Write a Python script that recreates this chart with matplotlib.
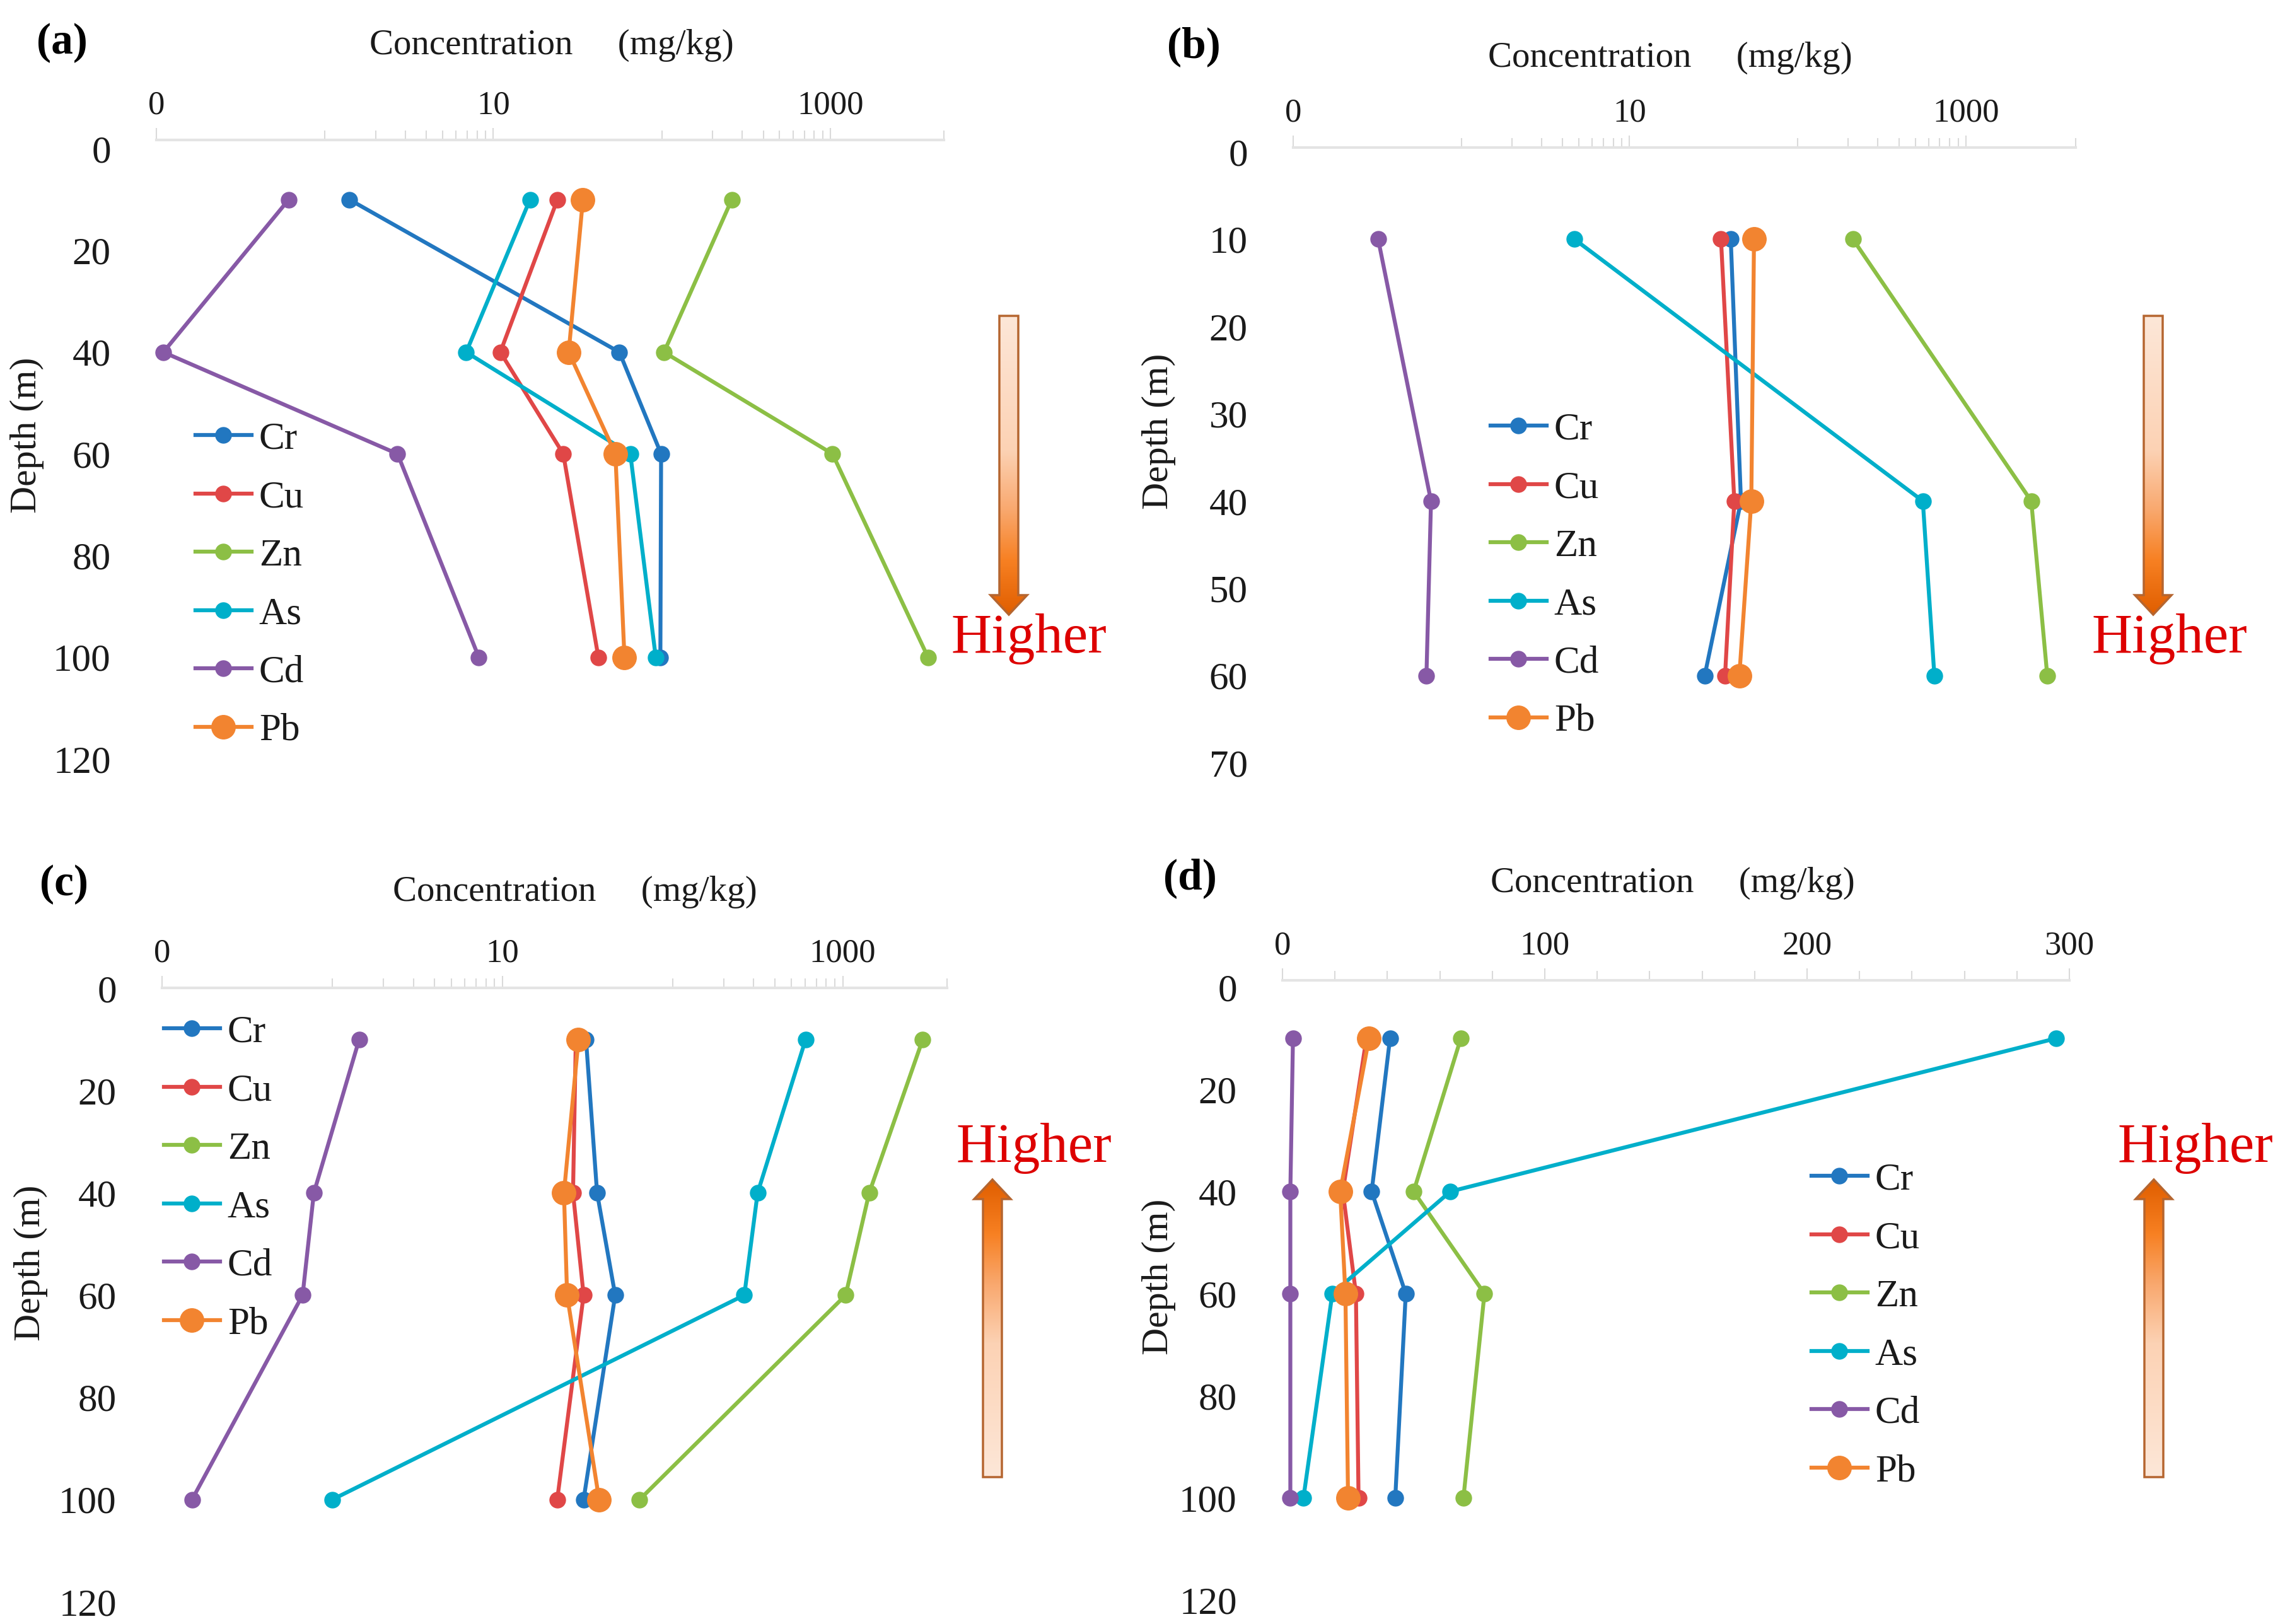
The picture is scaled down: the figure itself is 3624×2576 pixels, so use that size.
import numpy as np
import matplotlib
matplotlib.use("Agg")
import matplotlib.pyplot as plt
from matplotlib.patches import Polygon
from matplotlib.ticker import FixedLocator, NullFormatter, FixedFormatter

plt.rcParams['font.family'] = 'serif'
plt.rcParams['font.serif'] = ['Liberation Serif', 'DejaVu Serif']
SERIF = 'Liberation Serif'

W, H = 3624, 2576

metals = ["Cr", "Cu", "Zn", "As", "Cd", "Pb"]
colors = ["#2277C0", "#E04747", "#8CBF45", "#00AFCA", "#8759A6", "#F28430"]

# (a)
depth_a = [10, 40, 60, 100]
cr_a = [1.4, 56, 99, 98]
cu_a = [24, 11, 26, 42]
zn_a = [260, 103, 1030, 3800]
as_a = [16.5, 6.9, 65, 92]
cd_a = [0.61, 0.11, 2.7, 8.2]
pb_a = [34, 28, 53, 60]

# (b)
depth_b = [10, 40, 60]
cr_b = [40, 46, 28]
cu_b = [35, 42, 37]
zn_b = [213, 2450, 3050]
as_b = [4.7, 555, 650]
cd_b = [0.32, 0.66, 0.62]
pb_b = [55, 53, 45]

# (c)
depth_c = [10, 40, 60, 100]
cr_c = [31, 36, 46, 30]
cu_c = [27, 26, 30, 21]
zn_c = [2950, 1430, 1040, 64]
as_c = [605, 316, 264, 1.0]
cd_c = [1.44, 0.78, 0.67, 0.15]
pb_c = [28, 23, 24, 37]

# (d)
depth_d = [10, 40, 60, 100]
cr_d = [41, 34, 47, 43]
cu_d = [32, 23, 28, 29]
zn_d = [68, 50, 77, 69]
as_d = [295, 64, 19, 8]
cd_d = [4, 3, 3, 3]
pb_d = [33, 22, 24, 25]

log_major = [0.1, 10, 1000]
log_major_labels = ["0", "10", "1000"]
log_minor = [1, 2, 3, 4, 5, 6, 7, 8, 9, 100, 200, 300, 400, 500, 600, 700, 800, 900]
lin_major = [0, 100, 200, 300]
lin_major_labels = ["0", "100", "200", "300"]
lin_minor = list(range(20, 300, 20))

# panel layout in pixels: left, right, top, bottom
panels = [
    dict(name="(a)", box=(248, 1497, 222, 1212), ylim=(121, -1.73), xlim=(0.1, 4720), log=True,
         depth=depth_a, vals=[cr_a, cu_a, zn_a, as_a, cd_a, pb_a], yt=range(0, 121, 20),
         lab=(98, 68), title=(875, 72), dep=(43, 690), leg=(310, 690),
         higher=(1632, 1014), arrow=(1600, 501, 975)),
    dict(name="(b)", box=(2051, 3292, 234, 1224), ylim=(71, -0.5), xlim=(0.1, 4500), log=True,
         depth=depth_b, vals=[cr_b, cu_b, zn_b, as_b, cd_b, pb_b], yt=range(0, 71, 10),
         lab=(1893, 74), title=(2649, 92), dep=(1838, 684), leg=(2364, 675),
         higher=(3441, 1014), arrow=(3415, 501, 975)),
    dict(name="(c)", box=(257, 1502, 1567, 2549), ylim=(121, -0.1), xlim=(0.1, 4100), log=True,
         depth=depth_c, vals=[cr_c, cu_c, zn_c, as_c, cd_c, pb_c], yt=range(0, 121, 20),
         lab=(102, 1403), title=(912, 1415), dep=(49, 2003), leg=(260, 1631),
         higher=(1640, 1822), arrow=(1574, 2343, 1871)),
    dict(name="(d)", box=(2034, 3282, 1555, 2546), ylim=(121, -1.36), xlim=(0, 300), log=False,
         depth=depth_d, vals=[cr_d, cu_d, zn_d, as_d, cd_d, pb_d], yt=range(0, 121, 20),
         lab=(1887, 1393), title=(2653, 1401), dep=(1838, 2025), leg=(2873, 1865),
         higher=(3482, 1822), arrow=(3416, 2343, 1871)),
]

fig = plt.figure(figsize=(W / 100, H / 100), dpi=100)
text_col = "#1a1a1a"


def fx(px):
    return px / W


def fy(py):
    return 1 - py / H


for p in panels:
    l, r, t, b = p["box"]
    ax = fig.add_axes([fx(l), fy(b), fx(r - l), (b - t) / H])
    for name, vals, c in zip(metals, p["vals"], colors):
        ms = 27 if name == "Pb" else 18
        ax.plot(vals, p["depth"], color=c, lw=4.5, marker="o", ms=ms, label=name,
                clip_on=False)
    if p["log"]:
        ax.set_xscale("log")
        ax.xaxis.set_major_locator(FixedLocator(log_major))
        ax.xaxis.set_major_formatter(FixedFormatter(log_major_labels))
        ax.xaxis.set_minor_locator(FixedLocator(log_minor + [p["xlim"][1]]))
    else:
        ax.xaxis.set_major_locator(FixedLocator(lin_major))
        ax.xaxis.set_major_formatter(FixedFormatter(lin_major_labels))
        ax.xaxis.set_minor_locator(FixedLocator(lin_minor))
    ax.xaxis.set_minor_formatter(NullFormatter())
    ax.set_xlim(p["xlim"])
    ax.set_ylim(p["ylim"])
    ax.set_yticks(list(p["yt"]))
    ax.xaxis.set_ticks_position("top")
    for s in ["left", "right", "bottom"]:
        ax.spines[s].set_visible(False)
    ax.spines["top"].set_color("#E4E4E4")
    ax.spines["top"].set_linewidth(3)
    ax.tick_params(axis="x", which="major", direction="out", length=14, width=1.5,
                   color="#DADADA", labelsize=38, labelcolor=text_col, pad=8)
    ax.tick_params(axis="x", which="minor", direction="out", length=11, width=1.5,
                   color="#DADADA")
    ax.tick_params(axis="y", length=0, labelsize=44, labelcolor=text_col, pad=52)
    for lbl in ax.get_xticklabels() + ax.get_yticklabels():
        lbl.set_family(SERIF)
    ax.patch.set_alpha(0)

    leg_x, leg_y = p["leg"]
    ax.legend(loc="upper left", bbox_to_anchor=(fx(leg_x), fy(leg_y - 21)),
              bbox_transform=fig.transFigure, frameon=False,
              prop=dict(family=SERIF, size=44),
              handlelength=1.45, handletextpad=0.2, labelspacing=0.6,
              borderpad=0, borderaxespad=0, labelcolor=text_col)

    fig.text(fx(p["lab"][0]), fy(p["lab"][1]), p["name"], fontsize=50, family=SERIF,
             fontweight="bold", ha="center", va="center", color="black")
    fig.text(fx(p["title"][0]), fy(p["title"][1]), "Concentration     (mg/kg)",
             fontsize=41, family=SERIF, ha="center", va="center", color=text_col)
    fig.text(fx(p["dep"][0]), fy(p["dep"][1]), "Depth (m)", fontsize=43, family=SERIF,
             rotation=90, ha="center", va="center", color=text_col)
    fig.text(fx(p["higher"][0]), fy(p["higher"][1]), "Higher", fontsize=64, family=SERIF,
             ha="center", va="center", color="#DD0000")

# overlay for gradient arrows
ov = fig.add_axes([0, 0, 1, 1], zorder=10)
ov.set_xlim(0, W)
ov.set_ylim(H, 0)
ov.axis("off")
ov.patch.set_alpha(0)

stops = np.array([0.0, 0.45, 0.65, 0.82, 1.0])
stop_cols = np.array([
    [0xFD, 0xE7, 0xD8],
    [0xFC, 0xD2, 0xB4],
    [0xF9, 0xA8, 0x6E],
    [0xF7, 0x80, 0x22],
    [0xE0, 0x5E, 0x00],
]) / 255.0
tt = np.linspace(0, 1, 256)
grad = np.stack([np.interp(tt, stops, stop_cols[:, k]) for k in range(3)], axis=-1)
grad = grad[:, None, :]

for p in panels:
    xc, y_tail, y_tip = p["arrow"]
    sgn = 1 if y_tip > y_tail else -1
    sw, hw, hl = 15, 29, 31
    yh = y_tip - sgn * hl
    pts = [(xc - sw, y_tail), (xc + sw, y_tail), (xc + sw, yh), (xc + hw, yh),
           (xc, y_tip), (xc - hw, yh), (xc - sw, yh)]
    poly = Polygon(pts, closed=True, facecolor="none", edgecolor="#B5652F", lw=2.5,
                   zorder=3)
    ov.add_patch(poly)
    im = ov.imshow(grad, extent=(xc - hw - 2, xc + hw + 2, y_tip, y_tail),
                   origin="upper", aspect="auto", zorder=2)
    im.set_clip_path(poly)

ov.set_xlim(0, W)
ov.set_ylim(H, 0)

fig.savefig("out.png", dpi=100)
